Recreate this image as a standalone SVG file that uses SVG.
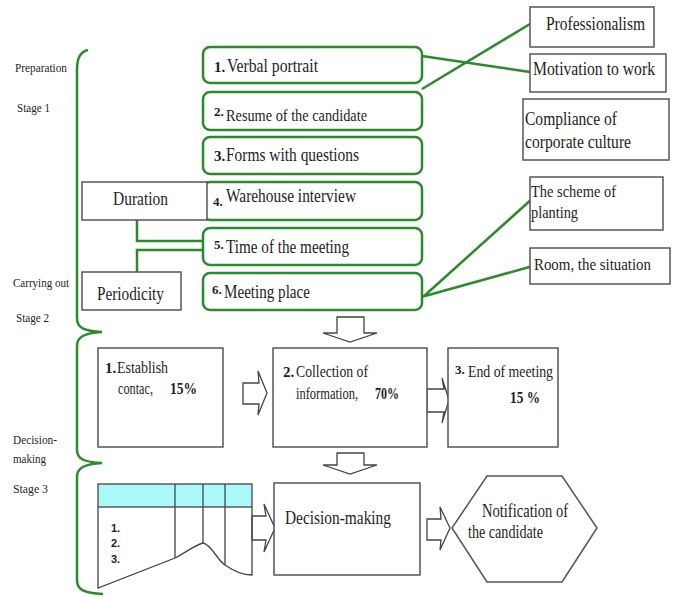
<svg xmlns="http://www.w3.org/2000/svg" width="677" height="597" viewBox="0 0 677 597">
<style>
text{font-family:"Liberation Serif","Times New Roman",serif;fill:#1e1e1e}
.t{font-size:18.5px}
.m{font-size:16px}
.s{font-size:13px}
.n{font-size:15px;font-weight:bold}
.b{font-weight:bold}
.gb{fill:#fff;stroke:#2b8a2b;stroke-width:2.5}
.bx{fill:#fff;stroke:#555;stroke-width:1.5}
.gl{fill:none;stroke:#2b8a2b;stroke-width:2.5}
.ar{fill:#fff;stroke:#444;stroke-width:1.3;stroke-linejoin:miter}
.ln{fill:none;stroke:#444;stroke-width:1.3}
</style>
<rect width="677" height="597" fill="#fff"/>
<g id="connectors">
<path class="gl" d="M422 56 L530 72"/>
<path class="gl" d="M422 89 L530 24"/>
<path class="gl" d="M423 297 L533 198"/>
<path class="gl" d="M425 296 L533 266"/>
<path class="gl" d="M137 220 V241 H204"/>
<path class="gl" d="M137 272 V250 H204"/>
<path class="gl" d="M88 50 C80 52 77 58 77 70 L77 318 C77 328 84 331 102 332 C84 333 77 337 77 346 L77 450 C77 459 84 462 102 463 C84 464 77 468 77 477 L77 580 C77 590 84 593 103 594"/>
<polygon class="ar" points="337,317 364,317 364,333 377,333 350,342 323,333 337,333"/>
<polygon class="ar" points="337,453 364,453 364,465 377,465 350,474 323,465 337,465"/>
<polygon class="ar" points="243,383 259,383 258,371 267,393 258,415 259,404 243,404"/>
<polygon class="ar" points="427,389 444,389 442,378 449,400 442,423 444,412 427,412"/>
<polygon class="ar" points="252,516 266,516 264,504 275,528 264,552 266,540 252,540"/>
<polygon class="ar" points="427,519 441,519 440,507 450,528 440,550 441,540 427,540"/>
</g>
<g id="labels">
<text class="s" x="15" y="72" textLength="52" lengthAdjust="spacingAndGlyphs">Preparation</text>
<text class="s" x="17" y="112" textLength="33" lengthAdjust="spacingAndGlyphs">Stage 1</text>
<text class="s" x="13" y="287" textLength="56" lengthAdjust="spacingAndGlyphs">Carrying out</text>
<text class="s" x="16" y="322" textLength="33" lengthAdjust="spacingAndGlyphs">Stage 2</text>
<text class="s" x="13" y="444" textLength="44" lengthAdjust="spacingAndGlyphs">Decision-</text>
<text class="s" x="13" y="463" textLength="33" lengthAdjust="spacingAndGlyphs">making</text>
<text class="s" x="13" y="493" textLength="35" lengthAdjust="spacingAndGlyphs">Stage 3</text>
</g>
<g id="n1"><rect class="gb" x="203" y="47" width="219" height="36" rx="7"/>
<text class="n" x="214" y="72">1.</text><text class="t" x="227" y="72" textLength="91" lengthAdjust="spacingAndGlyphs">Verbal portrait</text></g>
<g id="n2"><rect class="gb" x="203" y="92" width="219" height="38" rx="7"/>
<text class="n" x="214" y="116" style="font-size:13px">2.</text><text class="m" x="226" y="121" textLength="141" lengthAdjust="spacingAndGlyphs">Resume of the candidate</text></g>
<g id="n3"><rect class="gb" x="203" y="137" width="219" height="37" rx="7"/>
<text class="n" x="214" y="161">3.</text><text class="t" x="226" y="161" textLength="133" lengthAdjust="spacingAndGlyphs">Forms with questions</text></g>
<g id="n4"><rect class="gb" x="203" y="182" width="219" height="38" rx="7"/>
<text class="n" x="213" y="206" style="font-size:13px">4.</text><text class="t" x="226" y="202" textLength="130" lengthAdjust="spacingAndGlyphs">Warehouse interview</text></g>
<g id="n5"><rect class="gb" x="203" y="228" width="219" height="37" rx="7"/>
<text class="n" x="214" y="249" style="font-size:13px">5.</text><text class="t" x="226" y="253" textLength="123" lengthAdjust="spacingAndGlyphs">Time of the meeting</text></g>
<g id="n6"><rect class="gb" x="203" y="273" width="219" height="37" rx="7"/>
<text class="n" x="212" y="294" style="font-size:13px">6.</text><text class="t" x="224" y="298" textLength="86" lengthAdjust="spacingAndGlyphs">Meeting place</text></g>
<g id="duration"><rect class="bx" x="82" y="182" width="125" height="38"/>
<text class="t" x="113" y="205" textLength="55" lengthAdjust="spacingAndGlyphs">Duration</text></g>
<g id="periodicity"><rect class="bx" x="82" y="272" width="99" height="38"/>
<text class="t" x="97" y="300" textLength="67" lengthAdjust="spacingAndGlyphs">Periodicity</text></g>
<g id="professionalism"><rect class="bx" x="530" y="7" width="124" height="40"/>
<text class="t" x="546" y="30" textLength="99" lengthAdjust="spacingAndGlyphs">Professionalism</text></g>
<g id="motivation"><rect class="bx" x="530" y="54" width="136" height="38"/>
<text class="t" x="533" y="75" textLength="122" lengthAdjust="spacingAndGlyphs">Motivation to work</text></g>
<g id="compliance"><rect class="bx" x="523" y="99" width="146" height="61"/>
<text class="t" x="525" y="125" textLength="92" lengthAdjust="spacingAndGlyphs">Compliance of</text>
<text class="t" x="525" y="148" textLength="106" lengthAdjust="spacingAndGlyphs">corporate culture</text></g>
<g id="scheme"><rect class="bx" x="530" y="177" width="133" height="53"/>
<text class="m" x="531" y="197" textLength="85" lengthAdjust="spacingAndGlyphs">The scheme of</text>
<text class="m" x="531" y="218" textLength="47" lengthAdjust="spacingAndGlyphs">planting</text></g>
<g id="room"><rect class="bx" x="530" y="248" width="140" height="36"/>
<text class="m" x="534" y="270" textLength="117" lengthAdjust="spacingAndGlyphs">Room, the situation</text></g>
<g id="establish"><rect class="bx" x="98" y="348" width="125" height="99"/>
<text class="n" x="105" y="373">1.</text><text class="m" x="117" y="373" textLength="51" lengthAdjust="spacingAndGlyphs">Establish</text>
<text class="m" x="118" y="394" textLength="35" lengthAdjust="spacingAndGlyphs">contac,</text>
<text class="m b" x="170" y="394" textLength="27" lengthAdjust="spacingAndGlyphs">15%</text></g>
<g id="collection"><rect class="bx" x="273" y="348" width="154" height="99"/>
<text class="n" x="283" y="377">2.</text><text class="m" x="296" y="377" textLength="72" lengthAdjust="spacingAndGlyphs">Collection of</text>
<text class="m" x="296" y="399" textLength="62" lengthAdjust="spacingAndGlyphs">information,</text>
<text class="m b" x="375" y="399" textLength="24" lengthAdjust="spacingAndGlyphs">70%</text></g>
<g id="end"><rect class="bx" x="448" y="348" width="110" height="99"/>
<text class="n" x="455" y="374" style="font-size:13px">3.</text><text class="m" x="468" y="377" textLength="85" lengthAdjust="spacingAndGlyphs">End of meeting</text>
<text class="m b" x="510" y="403" textLength="30" lengthAdjust="spacingAndGlyphs">15 %</text></g>
<g id="table">
<rect x="98" y="484" width="154" height="23" fill="#aaf8f8" stroke="#444" stroke-width="1.3"/>
<path class="ln" d="M98 507 V588 L175 558 C185 553 195 545 203 543 C212 545 217 560 225 565 C235 572 245 575 252 575 V507"/>
<path class="ln" d="M175 484 V558 M203 484 V543 M225 484 V565"/>
<text x="111" y="532" style="font-family:'Liberation Sans',Arial,sans-serif;font-size:11px;font-weight:bold">1.</text>
<text x="111" y="547" style="font-family:'Liberation Sans',Arial,sans-serif;font-size:11px;font-weight:bold">2.</text>
<text x="111" y="563" style="font-family:'Liberation Sans',Arial,sans-serif;font-size:11px;font-weight:bold">3.</text>
</g>
<g id="decision"><rect class="bx" x="274" y="483" width="146" height="92"/>
<text class="t" x="285" y="524" style="font-size:19px" textLength="106" lengthAdjust="spacingAndGlyphs">Decision-making</text></g>
<g id="notification"><polygon class="bx" points="452,528 487,476 562,476 597,528 562,582 487,582"/>
<text class="t" x="482" y="517" textLength="86" lengthAdjust="spacingAndGlyphs">Notification of</text>
<text class="t" x="468" y="538" textLength="75" lengthAdjust="spacingAndGlyphs">the candidate</text></g>
</svg>
